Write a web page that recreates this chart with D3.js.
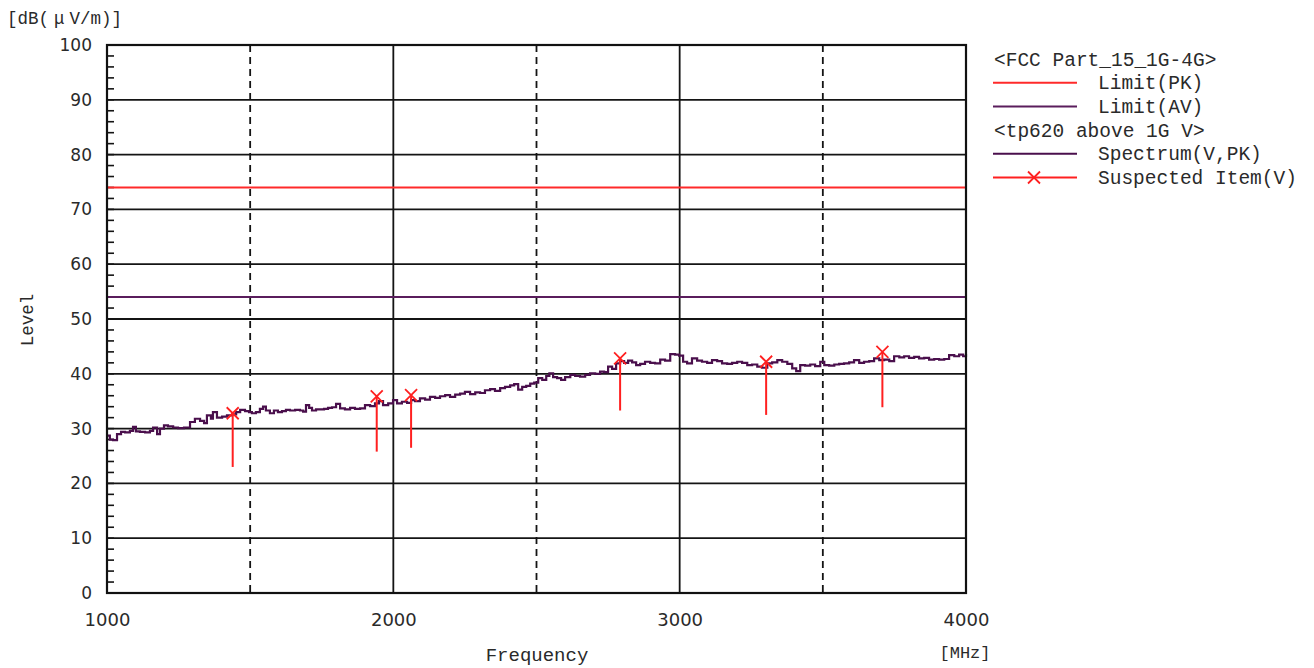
<!DOCTYPE html>
<html>
<head>
<meta charset="utf-8">
<script src="https://cdn.jsdelivr.net/npm/d3@7"></script>
<style>
  html, body { margin: 0; padding: 0; background: #fff; }
  svg { display: block; }
</style>
</head>
<body>
<svg id="chart" width="1314" height="668"></svg>
<script>
// ---------- DATA ----------
const yTicks = [0, 10, 20, 30, 40, 50, 60, 70, 80, 90, 100];
const xTicks = [1000, 2000, 3000, 4000];
const xDashed = [1500, 2500, 3500];
const limitPK = 74;
const limitAV = 54;

const spectrumFreq = [1000,1010,1021,1035,1049,1063,1080,1091,1101,1115,1133,1150,1161,1175,1185,1199,1213,1231,1248,1269,1290,1307,1325,1339,1349,1363,1370,1384,1402,1419,1437,1451,1465,1482,1496,1506,1520,1534,1545,1555,1569,1583,1597,1611,1625,1639,1657,1674,1685,1695,1706,1716,1730,1744,1758,1772,1786,1800,
1814,1831,1849,1866,1884,1901,1919,1936,1950,1964,1982,1999,2013,2030,2048,2062,2076,2093,2111,2128,2146,2163,2181,2198,2216,2233,2250,2268,2286,2303,2320,2338,2355,2373,2390,2408,2422,2436,2450,2464,2478,2492,2506,2520,2534,2545,2558,2572,2586,2600,2618,2635,2652,2670,2687,2705,2722,2736,2750,2764,2778,2792,2806,2820,2834,2848,2862,2879,2897,2914,2932,2949,2967,2984,2998,3012,3026,3043,3061,3078,3096,3113,3131,3148,3166,3183,3201,3218,3236,3253,3271,3288,3306,3323,3341,3358,3376,3393,3407,3421,3438,3456,3473,3491,3505,3522,3540,3557,3574,3592,3609,3627,3644,3662,3679,3697,3714,3732,3749,3767,3784,3801,3819,3836,3854,3871,3889,3906,3924,3941,3959,3976,3990,4000];
const spectrumLevel = [28.7,28.0,27.9,29.0,29.4,29.3,29.6,30.3,29.5,29.4,29.3,29.6,30.2,29.0,30.0,30.6,30.4,30.2,30.1,30.2,31.2,31.8,31.4,31.0,32.4,31.8,33.0,32.0,32.2,32.4,32.6,33.0,33.4,33.2,33.0,32.8,33.0,33.6,34.0,33.3,32.8,33.3,33.0,33.2,33.4,33.3,33.4,33.3,33.1,34.3,33.8,33.3,33.5,33.5,33.6,33.8,33.9,34.5,
33.7,33.5,33.8,33.6,33.7,34.3,34.1,34.6,35.0,34.3,34.6,35.2,34.6,34.9,34.7,35.2,35.0,35.5,35.3,35.8,35.6,35.9,36.1,35.8,36.2,36.4,36.7,36.3,36.6,36.5,37.0,37.2,36.9,37.4,37.6,37.9,38.1,37.1,37.6,37.8,38.2,38.4,39.2,38.9,39.6,40.1,39.4,39.2,38.9,39.4,39.8,39.6,39.5,39.8,40.1,40.0,40.4,40.3,41.3,40.9,41.9,42.3,42.0,42.4,42.1,41.6,41.8,42.2,42.0,41.9,42.6,42.4,43.6,43.5,43.3,42.2,41.9,42.8,42.4,42.2,42.0,42.5,42.3,41.9,41.8,42.0,42.2,42.0,41.6,41.7,41.3,41.1,41.9,42.1,42.5,42.2,41.8,41.0,40.5,41.6,41.5,41.7,41.4,42.2,41.6,41.5,41.7,41.8,41.9,42.1,42.5,42.0,42.2,42.3,42.8,42.5,42.6,42.3,43.2,43.0,43.2,42.9,43.1,42.8,42.9,42.6,42.7,42.6,42.7,43.4,43.2,43.5,43.2,43.6];

const suspectFreq = [1439, 1942, 2062, 2792, 3302, 3708];
const suspectPeak = [32.8, 35.9, 36.1, 42.8, 42.2, 44.0];
const suspectLow  = [23.0, 25.8, 26.5, 33.3, 32.5, 33.9];

const legendRows = [
  { type: "header", label: "<FCC Part_15_1G-4G>" },
  { type: "line", label: "Limit(PK)", key: "pk" },
  { type: "line", label: "Limit(AV)", key: "av" },
  { type: "header", label: "<tp620 above 1G V>" },
  { type: "line", label: "Spectrum(V,PK)", key: "sp" },
  { type: "marker", label: "Suspected Item(V)", key: "su" }
];

// ---------- STYLE ----------
const colors = { pk: "#ff2a2a", av: "#5a1d5c", sp: "#4a0f4c", su: "#ff2020", grid: "#141414", text: "#2a2a2a" };
const monoFont = "'Liberation Mono', 'DejaVu Sans Mono', monospace";
const numFont = "'DejaVu Sans', Verdana, sans-serif";

const svg = d3.select("#chart");
const L = 107, R = 966, T = 45, B = 593;
const x = d3.scaleLinear().domain([1000, 4000]).range([L, R]);
const y = d3.scaleLinear().domain([0, 100]).range([B, T]);

// grid
const g = svg.append("g");
g.selectAll("line.hgrid").data(yTicks.filter(v => v > 0 && v < 100)).enter().append("line")
  .attr("x1", L).attr("x2", R).attr("y1", d => y(d)).attr("y2", d => y(d))
  .attr("stroke", colors.grid).attr("stroke-width", 1.8);
g.selectAll("line.vgrid").data(xTicks.filter(v => v > 1000 && v < 4000)).enter().append("line")
  .attr("y1", T).attr("y2", B).attr("x1", d => x(d)).attr("x2", d => x(d))
  .attr("stroke", colors.grid).attr("stroke-width", 1.8);
g.selectAll("line.vdash").data(xDashed).enter().append("line")
  .attr("y1", T).attr("y2", B).attr("x1", d => x(d)).attr("x2", d => x(d))
  .attr("stroke", colors.grid).attr("stroke-width", 1.8).attr("stroke-dasharray", "7,5");

// minor ticks on left axis
const minor = d3.range(0, 101, 2);
g.selectAll("line.minor").data(minor).enter().append("line")
  .attr("x1", L).attr("x2", L + 7).attr("y1", d => y(d)).attr("y2", d => y(d))
  .attr("stroke", colors.grid).attr("stroke-width", 1.6);

// limits
svg.append("line").attr("x1", L).attr("x2", R).attr("y1", y(limitPK)).attr("y2", y(limitPK))
  .attr("stroke", colors.pk).attr("stroke-width", 2);
svg.append("line").attr("x1", L).attr("x2", R).attr("y1", y(limitAV)).attr("y2", y(limitAV))
  .attr("stroke", colors.av).attr("stroke-width", 2);

// spectrum
const specData = spectrumFreq.map((f, i) => [f, spectrumLevel[i]]);
svg.append("path").datum(specData)
  .attr("d", d3.line().x(d => x(d[0])).y(d => y(d[1])).curve(d3.curveStepAfter))
  .attr("fill", "none").attr("stroke", colors.sp).attr("stroke-width", 2.2).attr("stroke-linejoin", "miter");

// suspected items
const su = svg.append("g");
suspectFreq.forEach((f, i) => {
  const cx = x(f), cy = y(suspectPeak[i]);
  su.append("line").attr("x1", cx).attr("x2", cx).attr("y1", cy).attr("y2", y(suspectLow[i]))
    .attr("stroke", colors.su).attr("stroke-width", 2);
  su.append("path").attr("d", `M${cx-6},${cy-6}L${cx+6},${cy+6}M${cx-6},${cy+6}L${cx+6},${cy-6}`)
    .attr("stroke", colors.su).attr("stroke-width", 1.8).attr("fill", "none");
});

// frame
svg.append("rect").attr("x", L).attr("y", T).attr("width", R - L).attr("height", B - T)
  .attr("fill", "none").attr("stroke", "#111").attr("stroke-width", 2.2);

// axes labels
const yAxis = d3.axisLeft(y).tickValues(yTicks).tickSize(0).tickPadding(15);
const ya = svg.append("g").attr("transform", `translate(${L},0)`).call(yAxis);
ya.select(".domain").remove();
ya.selectAll("text").attr("font-family", numFont).attr("font-size", 17).attr("fill", colors.text);

const xAxis = d3.axisBottom(x).tickValues(xTicks).tickSize(0).tickPadding(20).tickFormat(d3.format("d"));
const xa = svg.append("g").attr("transform", `translate(0,${B})`).call(xAxis);
xa.select(".domain").remove();
xa.selectAll("text").attr("font-family", numFont).attr("font-size", 18).attr("fill", colors.text);

// unit label
const unit = svg.append("text").attr("x", 7).attr("y", 24).attr("font-family", monoFont)
  .attr("font-size", 17.5).attr("fill", colors.text);
unit.append("tspan").text("[dB(");
unit.append("tspan").attr("dx", 5).text("μ");
unit.append("tspan").attr("dx", 5).text("V/m)]");

svg.append("text").attr("transform", "translate(33,320) rotate(-90)").attr("text-anchor", "middle")
  .attr("font-family", monoFont).attr("font-size", 17.5).attr("fill", colors.text).text("Level");
svg.append("text").attr("x", 537).attr("y", 661).attr("text-anchor", "middle")
  .attr("font-family", monoFont).attr("font-size", 19).attr("fill", colors.text).text("Frequency");
svg.append("text").attr("x", 965).attr("y", 658).attr("text-anchor", "middle")
  .attr("font-family", monoFont).attr("font-size", 17).attr("fill", colors.text).text("[MHz]");

// legend
const lg = svg.append("g");
legendRows.forEach((r, i) => {
  const cy = 59 + i * 23.7;
  if (r.type === "header") {
    lg.append("text").attr("x", 994).attr("y", cy + 6.5).attr("font-family", monoFont)
      .attr("font-size", 19.5).attr("fill", colors.text).text(r.label);
  } else {
    lg.append("line").attr("x1", 993).attr("x2", 1077).attr("y1", cy).attr("y2", cy)
      .attr("stroke", colors[r.key]).attr("stroke-width", 2);
    if (r.type === "marker") {
      const mx = 1034;
      lg.append("path").attr("d", `M${mx-6},${cy-6}L${mx+6},${cy+6}M${mx-6},${cy+6}L${mx+6},${cy-6}`)
        .attr("stroke", colors.su).attr("stroke-width", 1.8).attr("fill", "none");
    }
    lg.append("text").attr("x", 1098).attr("y", cy + 6.5).attr("font-family", monoFont)
      .attr("font-size", 19.5).attr("fill", colors.text).text(r.label);
  }
});
</script>
</body>
</html>
